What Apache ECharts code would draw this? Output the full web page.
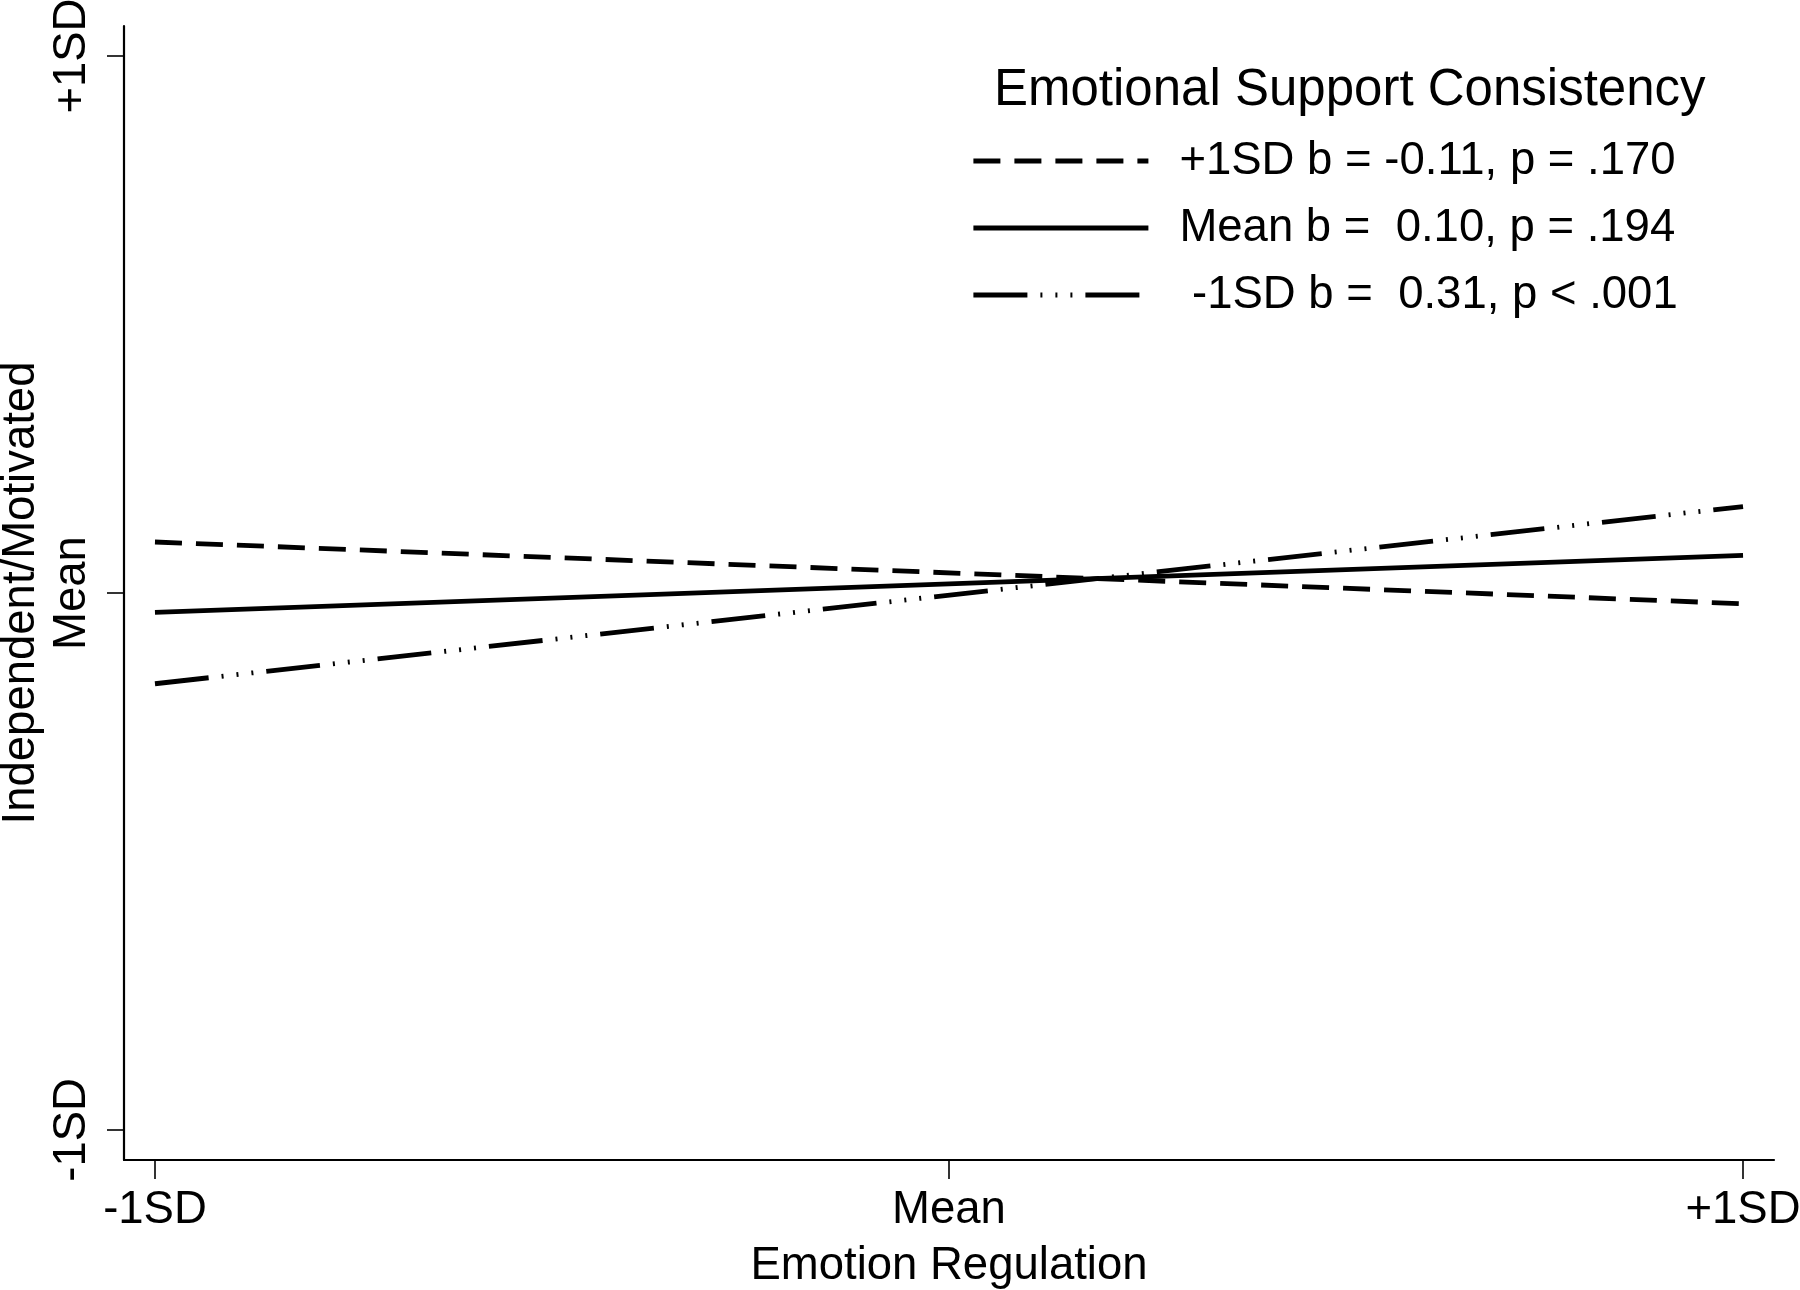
<!DOCTYPE html>
<html>
<head>
<meta charset="utf-8">
<script src="https://cdn.jsdelivr.net/npm/echarts@6/dist/echarts.min.js"></script>
<style>
  html, body { margin: 0; padding: 0; background: #fff; }
  #chart { width: 1800px; height: 1290px; }
</style>
</head>
<body>
<div id="chart"></div>
<script>
// ---- data ----
const xValues = [-1, 1];
const tickValues = [-1, 0, 1];
const xTickLabels = ['-1SD', 'Mean', '+1SD'];
const yTickLabels = ['-1SD', 'Mean', '+1SD'];
const seriesNames = ['+1SD b = -0.11, p = .170', 'Mean b =  0.10, p = .194', ' -1SD b =  0.31, p < .001'];
const plus1SD = [0.095, -0.020];
const meanSD = [-0.036, 0.070];
const minus1SD = [-0.169, 0.161];
const legendTitle = 'Emotional Support Consistency';
const xName = 'Emotion Regulation';
const yName = 'Independent/Motivated';

const FONT = 'Liberation Sans, Arial, Helvetica, sans-serif';
const FS = 45.5;
const lineW = 4.8;

function pairs(ys) { return xValues.map((x, i) => [x, ys[i]]); }
function tickLabel(arr) { return v => arr[tickValues.indexOf(Math.round(v))] || ''; }

const chart = echarts.init(document.getElementById('chart'), null, { renderer: 'canvas' });
chart.setOption({
  backgroundColor: '#ffffff',
  animation: false,
  title: {
    text: legendTitle,
    left: 989, top: 60,
    textStyle: { fontFamily: FONT, fontSize: 51, fontWeight: 'normal', color: '#000' }
  },
  legend: {
    orient: 'vertical',
    left: 966, top: 133,
    itemWidth: 175, itemHeight: 45, itemGap: 21,
    itemStyle: { opacity: 0, color: 'rgba(0,0,0,0)', borderWidth: 0 },
    lineStyle: { width: 'inherit' },
    textStyle: { fontFamily: FONT, fontSize: FS, color: '#000', padding: [0, 0, 0, 26] },
    data: seriesNames
  },
  grid: { left: 124, right: 26, top: 26, bottom: 130, outerBoundsMode: 'none', containLabel: false },
  xAxis: {
    type: 'value', min: -1.039, max: 1.039,
    name: xName, nameLocation: 'middle', nameGap: 83, nameMoveOverlap: false,
    nameTextStyle: { fontFamily: FONT, fontSize: FS, color: '#000' },
    axisLine: { show: true, onZero: false, lineStyle: { color: '#000', width: 2.2 } },
    axisTick: { show: true, customValues: tickValues, length: 19, lineStyle: { color: '#000', width: 1.6 } },
    axisLabel: { customValues: tickValues, formatter: tickLabel(xTickLabels), margin: 27,
      fontFamily: FONT, fontSize: FS, color: '#000' },
    splitLine: { show: false }
  },
  yAxis: {
    type: 'value', min: -1.056, max: 1.056,
    name: yName, nameLocation: 'middle', nameGap: 80, nameRotate: 90, nameMoveOverlap: false,
    nameTextStyle: { fontFamily: FONT, fontSize: FS, color: '#000' },
    axisLine: { show: true, onZero: false, lineStyle: { color: '#000', width: 2.2 } },
    axisTick: { show: true, customValues: tickValues, length: 17, lineStyle: { color: '#000', width: 1.6 } },
    axisLabel: { customValues: tickValues, formatter: tickLabel(yTickLabels), margin: 29, rotate: 90,
      fontFamily: FONT, fontSize: FS, color: '#000' },
    splitLine: { show: false }
  },
  series: [
    { name: seriesNames[0], type: 'line', data: pairs(plus1SD), symbol: 'none',
      itemStyle: { color: '#000' },
      lineStyle: { color: '#000', width: lineW, type: [27, 14] } },
    { name: seriesNames[1], type: 'line', data: pairs(meanSD), symbol: 'none',
      itemStyle: { color: '#000' },
      lineStyle: { color: '#000', width: lineW, type: 'solid' } },
    { name: seriesNames[2], type: 'line', data: pairs(minus1SD), symbol: 'none',
      itemStyle: { color: '#000' },
      lineStyle: { color: '#000', width: lineW, type: [54, 13, 2, 13, 2, 13, 2, 13] } }
  ]
});
</script>
</body>
</html>
